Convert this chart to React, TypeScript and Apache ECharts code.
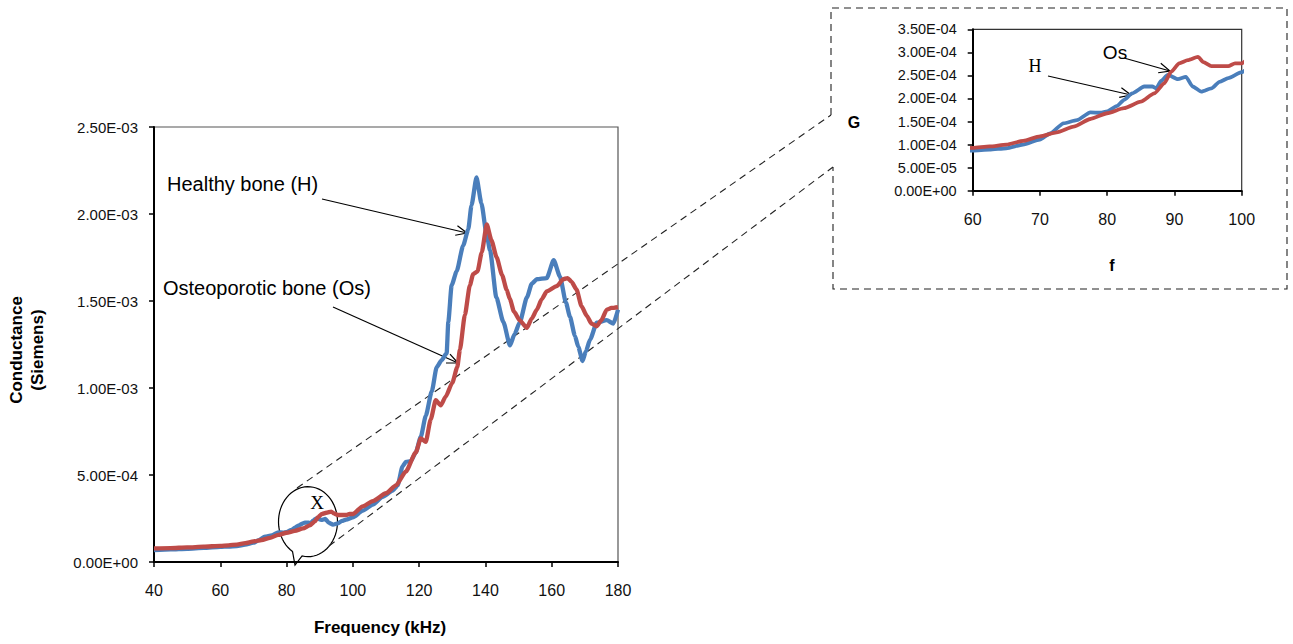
import React, { useEffect, useRef } from "react";
import * as echarts from "echarts";

// Healthy bone (H): frequency in kHz, conductance in Siemens
const freqH = [
  40, 45, 50, 55, 60, 62.5, 65, 67.5, 70, 71.5, 73.5, 75.5, 77.5, 79, 80, 81.5, 82.5, 83.7,
  85.5, 86.7, 87.3, 88, 89, 90.5, 91.7, 92.7, 94, 95.5, 96.7, 98, 100, 103, 106, 109, 112,
  113.5, 115, 116, 117.5, 119, 120.5, 122, 123.8, 125.3, 126.8, 128.3, 128.8, 129.8, 131.3,
  133.3, 134.8, 135.8, 137.3, 138.8, 140.3, 141.4, 143.3, 145.4, 147.4, 148.8, 150.4, 152.5,
  154, 155.5, 158.5, 160.6, 162.5, 164.3, 165.5, 167, 168, 169.3, 170.3, 171.6, 173.6, 176.6,
  178.6, 180,
];
const condH = [
  6.9e-5, 7.2e-5, 7.6e-5, 8.1e-5, 8.7e-5, 8.9e-5, 9.2e-5, 1.0e-4, 1.11e-4, 1.24e-4, 1.46e-4,
  1.53e-4, 1.7e-4, 1.69e-4, 1.72e-4, 1.84e-4, 1.97e-4, 2.11e-4, 2.26e-4, 2.26e-4, 2.22e-4,
  2.38e-4, 2.51e-4, 2.42e-4, 2.47e-4, 2.26e-4, 2.15e-4, 2.22e-4, 2.36e-4, 2.44e-4, 2.57e-4,
  2.95e-4, 3.3e-4, 3.75e-4, 4.1e-4, 4.4e-4, 5.5e-4, 5.75e-4, 5.8e-4, 6.3e-4, 7.2e-4, 8.4e-4,
  9.8e-4, 1.12e-3, 1.16e-3, 1.2e-3, 1.38e-3, 1.59e-3, 1.67e-3, 1.82e-3, 1.91e-3, 2.05e-3,
  2.21e-3, 2.06e-3, 1.89e-3, 1.79e-3, 1.52e-3, 1.38e-3, 1.245e-3, 1.31e-3, 1.38e-3, 1.52e-3,
  1.6e-3, 1.625e-3, 1.632e-3, 1.735e-3, 1.64e-3, 1.49e-3, 1.41e-3, 1.3e-3, 1.238e-3, 1.155e-3,
  1.21e-3, 1.28e-3, 1.375e-3, 1.39e-3, 1.37e-3, 1.45e-3,
];

// Osteoporotic bone (Os)
const freqOs = [
  40, 45, 50, 55, 60, 62.5, 65, 67.5, 70, 72.5, 75, 77.5, 80, 82.5, 85, 87, 88.5, 89.5, 90.7,
  92, 93.5, 94.3, 95.5, 98, 99, 100, 103, 106, 110, 113, 116, 119, 120.5, 122, 123.5, 125,
  126.5, 128, 130, 131.5, 132.3, 133.8, 135.3, 136.3, 137.6, 138.9, 140.4, 141.8, 143.4, 145,
  146.4, 147.4, 148.6, 150.3, 152.5, 154, 155.5, 157, 158.5, 161.5, 163.5, 164.8, 166, 167.5,
  169, 170.6, 172, 173.6, 175, 176.6, 178, 180,
];
const condOs = [
  7.8e-5, 8.0e-5, 8.4e-5, 8.8e-5, 9.3e-5, 9.6e-5, 1.0e-4, 1.08e-4, 1.18e-4, 1.265e-4, 1.39e-4,
  1.555e-4, 1.68e-4, 1.79e-4, 1.93e-4, 2.11e-4, 2.33e-4, 2.58e-4, 2.76e-4, 2.83e-4, 2.9e-4,
  2.79e-4, 2.7e-4, 2.7e-4, 2.76e-4, 2.76e-4, 3.2e-4, 3.5e-4, 3.95e-4, 4.4e-4, 5.2e-4, 6.3e-4,
  7.1e-4, 6.9e-4, 8.2e-4, 9.3e-4, 9.0e-4, 9.5e-4, 1.03e-3, 1.12e-3, 1.22e-3, 1.42e-3, 1.59e-3,
  1.655e-3, 1.67e-3, 1.78e-3, 1.94e-3, 1.85e-3, 1.75e-3, 1.65e-3, 1.565e-3, 1.51e-3, 1.44e-3,
  1.39e-3, 1.345e-3, 1.4e-3, 1.45e-3, 1.51e-3, 1.555e-3, 1.585e-3, 1.625e-3, 1.632e-3, 1.61e-3,
  1.565e-3, 1.47e-3, 1.415e-3, 1.37e-3, 1.355e-3, 1.39e-3, 1.45e-3, 1.46e-3, 1.465e-3,
];

const BLUE = "#4A7EBB";
const RED = "#BE4B48";
const SANS = "'Liberation Sans', Arial, sans-serif";
const SERIF = "'Liberation Serif', 'Times New Roman', serif";

// Excel-style scientific labels: 2.50E-03
function sci(v: number): string {
  if (Math.abs(v) < 1e-12) return "0.00E+00";
  const [m, e] = v.toExponential(2).split("e");
  const n = parseInt(e, 10);
  const a = Math.abs(n);
  return m + "E" + (n < 0 ? "-" : "+") + (a < 10 ? "0" + a : String(a));
}

// Straight arrow with an open V head at (x2, y2)
function arrow(x1: number, y1: number, x2: number, y2: number) {
  const ang = Math.atan2(y2 - y1, x2 - x1);
  const len = 12;
  const spread = 0.42;
  const p1 = [x2 - len * Math.cos(ang - spread), y2 - len * Math.sin(ang - spread)];
  const p2 = [x2 - len * Math.cos(ang + spread), y2 - len * Math.sin(ang + spread)];
  const style = { stroke: "#000", lineWidth: 1.2, fill: null };
  return [
    { type: "line", shape: { x1, y1, x2, y2 }, style },
    { type: "polyline", shape: { points: [p1, [x2, y2], p2] }, style },
  ];
}

// Speech-bubble outline: ellipse with a tail at the bottom
function bubble(cx: number, cy: number, rx: number, ry: number, a0: number, a1: number, tip: number[]) {
  const pts: number[][] = [];
  const start = (a0 * Math.PI) / 180;
  const end = ((a1 + 360) * Math.PI) / 180;
  const steps = 60;
  for (let i = 0; i <= steps; i++) {
    const t = start + ((end - start) * i) / steps;
    pts.push([cx + rx * Math.cos(t), cy + ry * Math.sin(t)]);
  }
  pts.push(tip);
  pts.push(pts[0]);
  return {
    type: "polyline",
    shape: { points: pts },
    style: { stroke: "#000", lineWidth: 1.2, fill: null },
  };
}

const dashStyle = { stroke: "#222", lineWidth: 1.1, lineDash: [7, 5], fill: null };

function label(text: string, x: number, y: number, size: number, opts: any = {}) {
  return {
    type: "text",
    x,
    y,
    rotation: opts.rotation || 0,
    style: {
      text,
      fill: "#000",
      font: `${opts.bold ? "bold " : ""}${size}px ${opts.family || SANS}`,
      align: opts.align || "center",
      verticalAlign: "middle",
      lineHeight: opts.lineHeight || size * 1.2,
    },
  };
}

export default function App() {
  const ref = useRef<HTMLDivElement>(null);

  useEffect(() => {
    if (!ref.current) return;
    const chart = echarts.init(ref.current, null, { renderer: "svg" });

    const dataH = freqH.map((f, i) => [f, condH[i]]);
    const dataOs = freqOs.map((f, i) => [f, condOs[i]]);

    const axisLine = { show: true, lineStyle: { color: "#000", width: 2 } };
    const axisTick = { show: true, length: 5, inside: false, lineStyle: { color: "#000", width: 1.5 } };

    const option: any = {
      animation: false,
      backgroundColor: "#fff",
      grid: [
        { left: 154, top: 127, width: 464, height: 435, show: true, borderColor: "#555", borderWidth: 1.2 },
        { left: 972.7, top: 29.3, width: 269, height: 161.4, show: true, borderColor: "#333", borderWidth: 1.2 },
      ],
      xAxis: [
        {
          type: "value", gridIndex: 0, min: 40, max: 180, interval: 20,
          axisLine, axisTick, splitLine: { show: false },
          axisLabel: { fontSize: 16, margin: 20, color: "#111", fontFamily: SANS },
        },
        {
          type: "value", gridIndex: 1, min: 60, max: 100, interval: 10,
          axisLine, axisTick, splitLine: { show: false },
          axisLabel: { fontSize: 16, margin: 21, color: "#111", fontFamily: SANS },
        },
      ],
      yAxis: [
        {
          type: "value", gridIndex: 0, min: 0, max: 0.0025, interval: 0.0005,
          axisLine, axisTick, splitLine: { show: false },
          axisLabel: { fontSize: 15, margin: 16, color: "#111", fontFamily: SANS, formatter: sci },
        },
        {
          type: "value", gridIndex: 1, min: 0, max: 0.00035, interval: 0.00005,
          axisLine, axisTick, splitLine: { show: false },
          axisLabel: { fontSize: 14.5, margin: 16, color: "#111", fontFamily: SANS, formatter: sci },
        },
      ],
      series: [
        {
          name: "Healthy bone (H)", type: "line", xAxisIndex: 0, yAxisIndex: 0, data: dataH,
          showSymbol: false, smooth: 0.2, smoothMonotone: "x",
          lineStyle: { color: BLUE, width: 4.3 }, clip: true,
        },
        {
          name: "Osteoporotic bone (Os)", type: "line", xAxisIndex: 0, yAxisIndex: 0, data: dataOs,
          showSymbol: false, smooth: 0.2, smoothMonotone: "x",
          lineStyle: { color: RED, width: 4.3 }, clip: true,
        },
        {
          name: "H", type: "line", xAxisIndex: 1, yAxisIndex: 1, data: dataH,
          showSymbol: false, smooth: 0.2, smoothMonotone: "x",
          lineStyle: { color: BLUE, width: 3.8 }, clip: true,
        },
        {
          name: "Os", type: "line", xAxisIndex: 1, yAxisIndex: 1, data: dataOs,
          showSymbol: false, smooth: 0.2, smoothMonotone: "x",
          lineStyle: { color: RED, width: 3.8 }, clip: true,
        },
      ],
      graphic: [
        // axis titles
        label("Frequency (kHz)", 380, 627, 17, { bold: true }),
        label("Conductance\n(Siemens)", 27, 350, 17, { bold: true, rotation: Math.PI / 2, lineHeight: 21 }),
        label("G", 854, 122, 16, { bold: true }),
        label("f", 1112, 265, 16, { bold: true }),
        // annotations in the main plot
        label("Healthy bone (H)", 167, 184, 20, { align: "left" }),
        label("Osteoporotic bone (Os)", 163, 288, 20, { align: "left" }),
        ...arrow(322, 199, 467, 233),
        ...arrow(333, 307, 458, 363),
        label("X", 317, 502, 19, { family: SERIF }),
        bubble(308, 521.7, 29.5, 35, 121.7, 101.5, [295, 565]),
        // zoom connectors and the inset frame
        { type: "line", shape: { x1: 297, y1: 488, x2: 831, y2: 115 }, style: dashStyle },
        { type: "line", shape: { x1: 329, y1: 546, x2: 833, y2: 167 }, style: dashStyle },
        {
          type: "polyline",
          shape: { points: [[831, 115], [831, 8], [1287, 8], [1287, 289], [833, 289], [833, 167]] },
          style: dashStyle,
        },
        // annotations in the inset
        label("Os", 1115, 52, 19),
        label("H", 1035, 66, 18, { family: SERIF }),
        ...arrow(1124, 58, 1170, 71),
        ...arrow(1048, 76, 1131, 95),
      ],
    };

    chart.setOption(option);
    return () => chart.dispose();
  }, []);

  return (
    <div
      ref={ref}
      style={{ position: "fixed", left: 0, top: 0, width: 1293, height: 644, background: "#fff" }}
    />
  );
}
